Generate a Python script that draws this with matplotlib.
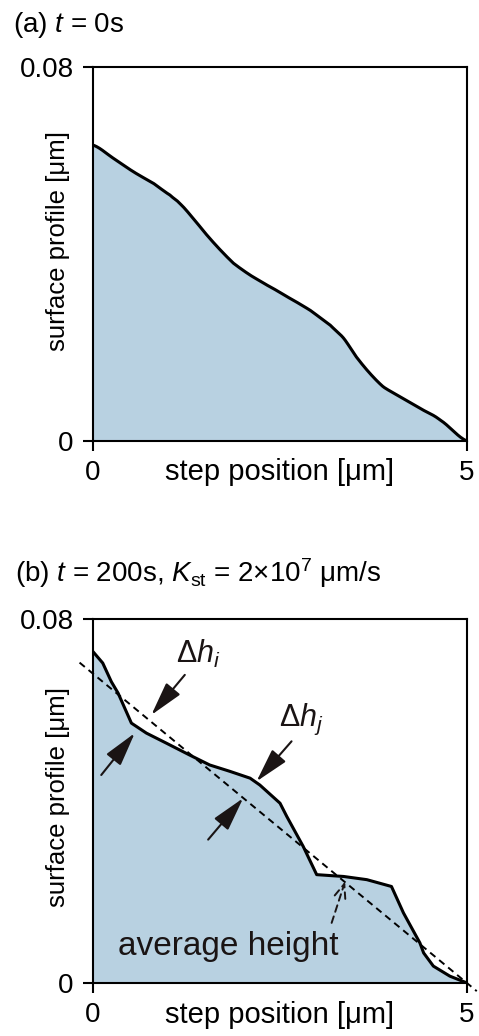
import numpy as np
import matplotlib
matplotlib.use("Agg")
import matplotlib.pyplot as plt

plt.rcParams["font.family"] = ["Liberation Sans", "DejaVu Sans"]
plt.rcParams["mathtext.fontset"] = "custom"
plt.rcParams["mathtext.rm"] = "Liberation Sans"
plt.rcParams["mathtext.it"] = "Liberation Sans:italic"

# (a) t = 0s profile
x_a = [0.0, 0.27, 0.54, 0.81, 1.03, 1.16, 1.34, 1.52, 1.70, 1.88, 2.10, 2.32,
       2.59, 2.90, 3.17, 3.35, 3.52, 3.70, 3.88, 4.10, 4.37, 4.64, 5.0]
y_a = [0.0633, 0.0605, 0.0576, 0.0551, 0.0526, 0.0508, 0.0476, 0.0441, 0.0409,
       0.0380, 0.0355, 0.0334, 0.0309, 0.0280, 0.0248, 0.0220, 0.0180, 0.0145,
       0.0116, 0.0095, 0.0070, 0.0045, 0.0]

# (b) t = 200s profile
x_b = [0.0, 0.13, 0.245, 0.335, 0.424, 0.513, 0.714, 0.98, 1.29, 1.56, 1.83,
       2.10, 2.23, 2.50, 2.59, 2.81, 2.99, 3.35, 3.66, 3.99, 4.15, 4.37,
       4.42, 4.55, 4.77, 5.0]
y_b = [0.0728, 0.0703, 0.0662, 0.0637, 0.0604, 0.0571, 0.0549, 0.0527, 0.0501,
       0.0479, 0.0465, 0.0450, 0.0435, 0.0395, 0.0366, 0.0300, 0.0238, 0.0234,
       0.0227, 0.0212, 0.0154, 0.0088, 0.0066, 0.0037, 0.0015, 0.0]

# average height line
avg_x = [-0.18, 5.13]
avg_y = [0.0704, -0.0018]

fill_col = "#b8d1e1"
fs = 20


def smooth(xs, ys, n=400):
    # catmull-rom curve through the read points (panel a)
    xs = np.array(xs)
    ys = np.array(ys)
    t = np.linspace(xs[0], xs[-1], n)
    out = []
    for tt in t:
        i = np.searchsorted(xs, tt) - 1
        i = min(max(i, 0), len(xs) - 2)
        p0 = ys[max(i - 1, 0)]
        p1 = ys[i]
        p2 = ys[i + 1]
        p3 = ys[min(i + 2, len(xs) - 1)]
        u = (tt - xs[i]) / (xs[i + 1] - xs[i])
        out.append(0.5 * ((2 * p1) + (-p0 + p2) * u
                          + (2 * p0 - 5 * p1 + 4 * p2 - p3) * u ** 2
                          + (-p0 + 3 * p1 - 3 * p2 + p3) * u ** 3))
    return t, np.array(out)


def style_axes(ax, ylab_y, xlab_y):
    ax.set_xlim(0, 5)
    ax.set_ylim(0, 0.08)
    ax.set_xticks([0, 5])
    ax.set_yticks([0, 0.08])
    ax.set_xticklabels(["0", "5"])
    ax.set_yticklabels(["0", "0.08"])
    ax.tick_params(direction="out", length=7, width=1.5, labelsize=fs, pad=7)
    for s in ax.spines.values():
        s.set_linewidth(1.5)
    ax.set_ylabel("surface profile [μm]", fontsize=18.5, va="center")
    ax.yaxis.set_label_coords(-0.094, ylab_y)
    ax.set_xlabel("step position [μm]", fontsize=21, va="center")
    ax.xaxis.set_label_coords(0.5, xlab_y)


fig = plt.figure(figsize=(4.79, 10.36), dpi=100)

ax1 = fig.add_axes([0.1942, 0.5743, 0.7808, 0.3610])
sx, sy = smooth(x_a, y_a)
ax1.fill_between(sx, 0, sy, color=fill_col, lw=0)
ax1.plot(sx, sy, color="k", lw=2.2)
style_axes(ax1, 0.535, -0.083)

ax2 = fig.add_axes([0.1942, 0.0512, 0.7808, 0.3514])
ax2.fill_between(x_b, 0, y_b, color=fill_col, lw=0)
ax2.plot(x_b, y_b, color="k", lw=2.2)
ax2.plot(avg_x, avg_y, color="k", lw=1.4, ls=(0, (3.5, 2.5)), clip_on=False)
style_axes(ax2, 0.51, -0.088)

arrow = dict(arrowstyle="-|>,head_length=0.75,head_width=0.2", color="#1a1414",
             lw=1.5, mutation_scale=28, shrinkA=0, shrinkB=0)
ax2.annotate("", xy=(0.78, 0.0589), xytext=(1.227, 0.0677), arrowprops=arrow)
ax2.annotate("", xy=(0.558, 0.0549), xytext=(0.11, 0.0457), arrowprops=arrow)
ax2.annotate("", xy=(2.186, 0.0443), xytext=(2.654, 0.0531), arrowprops=arrow)
ax2.annotate("", xy=(2.007, 0.0406), xytext=(1.539, 0.0315), arrowprops=arrow)
ax2.annotate("", xy=(3.37, 0.0223), xytext=(3.19, 0.0132),
             arrowprops=dict(arrowstyle="->,head_length=0.5,head_width=0.2",
                             color="#1a1414", lw=1.4, ls=(0, (3.5, 2.5)),
                             mutation_scale=20, shrinkA=0, shrinkB=0))

ax2.text(1.115, 0.0703, r"$\Delta h_{i}$", fontsize=22, ha="left",
         va="baseline", color="#1a1414")
ax2.text(2.49, 0.0564, r"$\Delta h_{j}$", fontsize=22, ha="left",
         va="baseline", color="#1a1414")
ax2.text(0.335, 0.0062, "average height", fontsize=24, ha="left",
         va="baseline", color="#1a1414")

fig.text(0.027, 0.976, r"(a) $t$ = 0s", fontsize=20, ha="left", va="center")
fig.text(0.031, 0.447, r"(b) $t$ = 200s, $K_{\rm st}$ = 2×10$^{7}$ μm/s",
         fontsize=20, ha="left", va="center")

fig.savefig("out.png", dpi=100)
